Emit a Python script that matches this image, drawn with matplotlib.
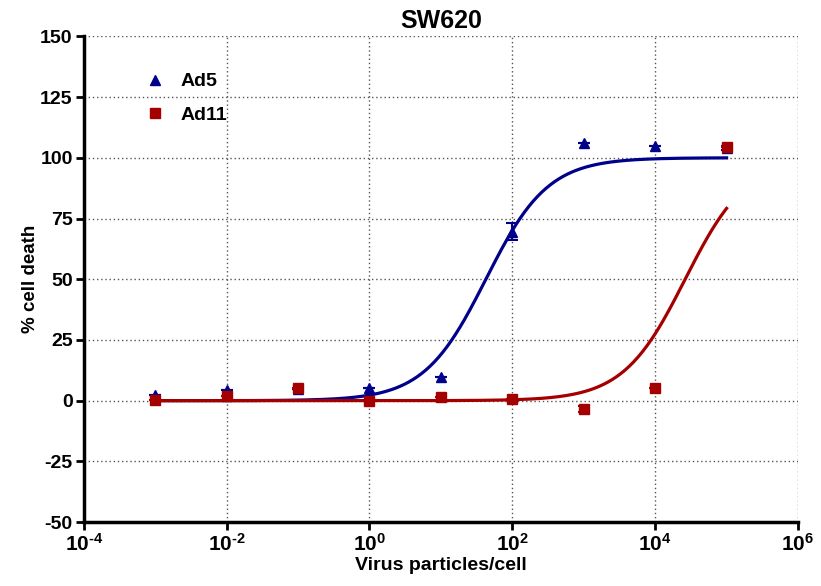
import numpy as np
import matplotlib
matplotlib.use("Agg")
import matplotlib.pyplot as plt

plt.rcParams["font.family"] = "Liberation Sans"
plt.rcParams["font.weight"] = "bold"
plt.rcParams["axes.unicode_minus"] = False
plt.rcParams["mathtext.fontset"] = "custom"
plt.rcParams["mathtext.rm"] = "Liberation Sans:bold"
plt.rcParams["mathtext.it"] = "Liberation Sans:bold"
plt.rcParams["mathtext.bf"] = "Liberation Sans:bold"
plt.rcParams["mathtext.default"] = "rm"

# ---- data ----
dose = [1e-3, 1e-2, 1e-1, 1e0, 1e1, 1e2, 1e3, 1e4, 1e5]

ad5_mean = [2.5, 4.5, 5.0, 5.3, 9.8, 69.5, 106.0, 105.0, 104.0]
ad5_err = [0.0, 0.0, 0.0, 0.0, 0.0, 3.5, 0.0, 0.0, 0.8]

ad11_mean = [0.4, 1.8, 5.3, -0.3, 1.6, 0.5, -3.3, 5.4, 104.5]
ad11_err = [0.0, 0.0, 0.0, 0.0, 0.0, 0.0, 1.2, 0.0, 0.0]

# fitted dose-response parameters (bottom, top, logEC50, hill)
ad5_fit = (0.0, 100.0, 1.63, 1.0)
ad11_fit = (0.0, 100.0, 4.42, 1.0)

x_ticks = [1e-4, 1e-2, 1e0, 1e2, 1e4, 1e6]
x_tick_labels = [r"$10^{\text{-4}}$", r"$10^{\text{-2}}$", r"$10^{0}$",
                 r"$10^{2}$", r"$10^{4}$", r"$10^{6}$"]
y_ticks = [-50, -25, 0, 25, 50, 75, 100, 125, 150]

BLUE = "#00008B"
RED = "#A50000"


def dose_response(logx, fit):
    bottom, top, logec50, hill = fit
    return bottom + (top - bottom) / (1 + 10 ** ((logec50 - logx) * hill))


fig = plt.figure(figsize=(8.21, 5.86), dpi=100)
ax = fig.add_axes([0.102, 0.109, 0.870, 0.829])

logx = np.linspace(-3, 5, 400)
ax.plot(10 ** logx, dose_response(logx, ad5_fit), color=BLUE, lw=2.3, zorder=3)
ax.plot(10 ** logx, dose_response(logx, ad11_fit), color=RED, lw=2.3, zorder=3)

ax.errorbar(dose, ad5_mean, yerr=ad5_err, fmt="^", color=BLUE, ms=7.5,
            capsize=4, elinewidth=1.5, capthick=1.5, zorder=4, label="Ad5")
ax.errorbar(dose, ad11_mean, yerr=ad11_err, fmt="s", color=RED, ms=7,
            capsize=4, elinewidth=1.5, capthick=1.5, zorder=5, label="Ad11")

ax.set_xscale("log")
ax.set_xlim(1e-4, 1e6)
ax.set_ylim(-50, 150)
ax.set_xticks(x_ticks)
ax.set_xticklabels(x_tick_labels)
ax.xaxis.set_minor_locator(matplotlib.ticker.NullLocator())
ax.set_yticks(y_ticks)

ax.tick_params(axis="both", which="major", direction="out", length=6, width=2,
               labelsize=14, pad=2)
ax.tick_params(axis="x", labelsize=15)
for lbl in ax.get_yticklabels():
    lbl.set_fontweight("bold")

for s in ["top", "right"]:
    ax.spines[s].set_visible(False)
for s in ["left", "bottom"]:
    ax.spines[s].set_linewidth(2.5)

ax.grid(True, which="major", linestyle=(0, (1, 2)), color="#555555", lw=1)
ax.set_axisbelow(True)

ax.set_title("SW620", fontsize=18, fontweight="bold", pad=6)
ax.set_xlabel("Virus particles/cell", fontsize=14, fontweight="bold", labelpad=1)
ax.set_ylabel("% cell death", fontsize=13.5, fontweight="bold", labelpad=1)

handles, labels = ax.get_legend_handles_labels()
handles = [h[0] for h in handles]
ax.legend(handles, labels, loc="upper left", bbox_to_anchor=(0.062, 0.961),
          frameon=False, fontsize=14, handletextpad=0.8, labelspacing=0.8,
          handlelength=1.0)

fig.savefig("out.png", dpi=100)
